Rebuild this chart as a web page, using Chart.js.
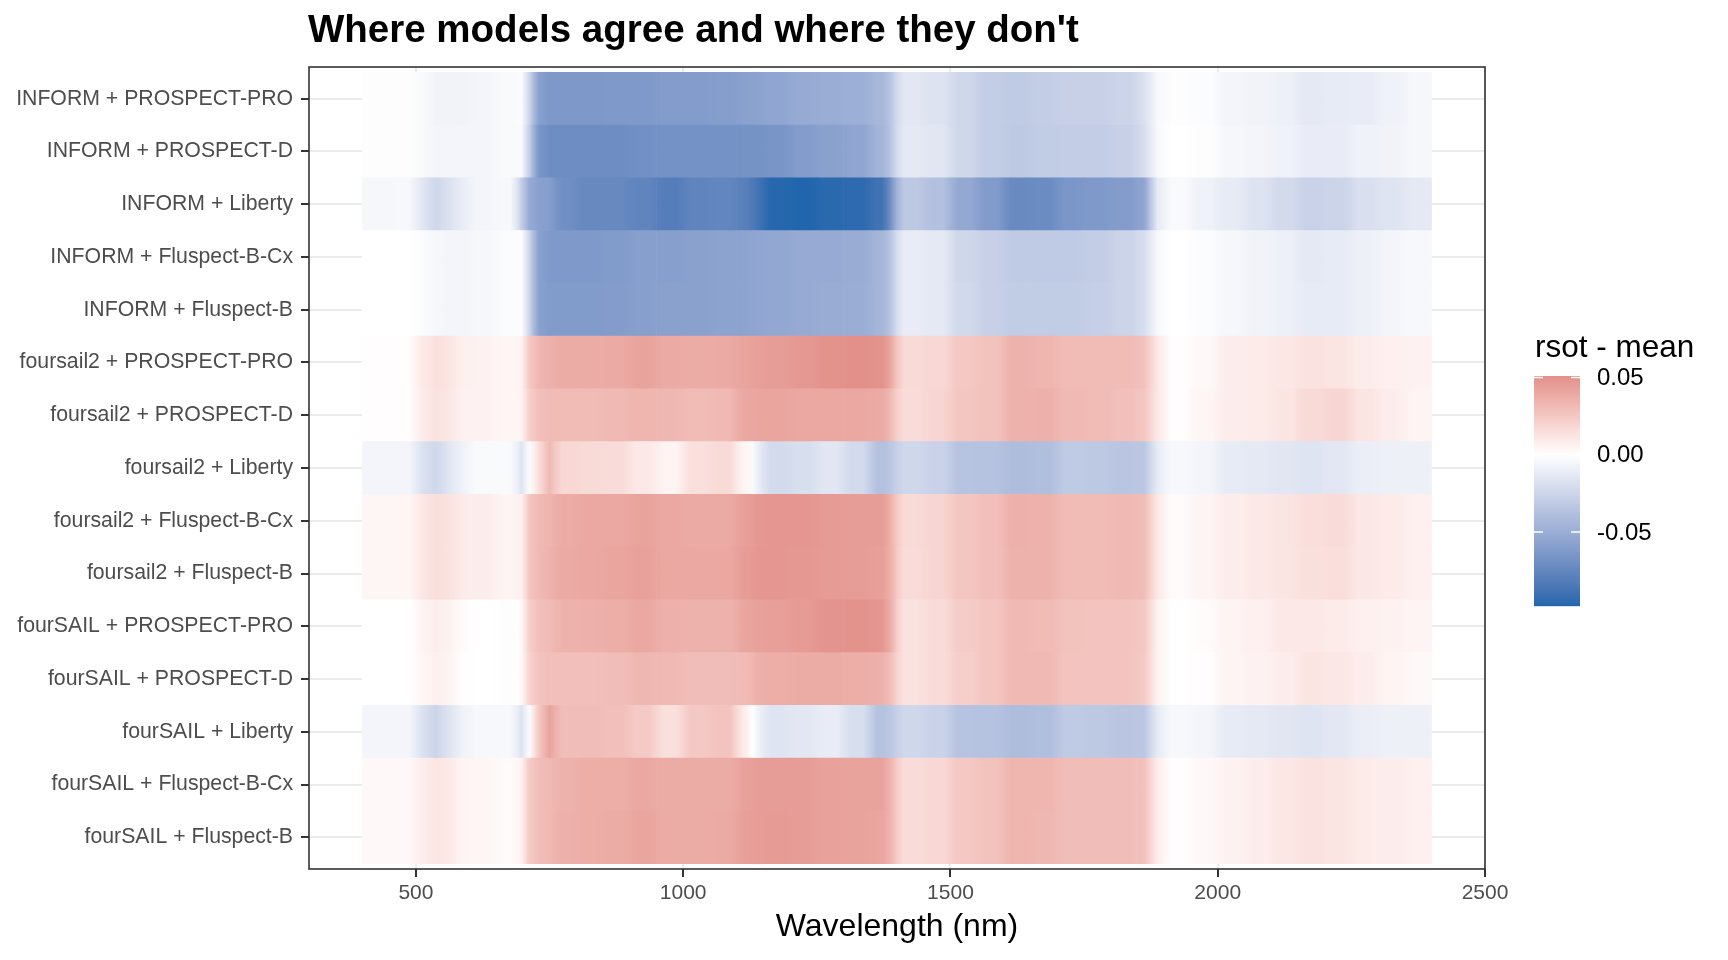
<!DOCTYPE html>
<html>
<head>
<meta charset="utf-8">
<script src="https://cdn.jsdelivr.net/npm/chart.js@4.4.1/dist/chart.umd.min.js"></script>
<style>
html,body{margin:0;padding:0;background:#ffffff;}
#wrap{width:1728px;height:960px;position:relative;}
</style>
</head>
<body>
<div id="wrap"><canvas id="c" width="1728" height="960"></canvas></div>
<script>
const chartTitle = "Where models agree and where they don't";
const legendTitle = "rsot - mean";
const xTitle = "Wavelength (nm)";
const xTicks = [500, 1000, 1500, 2000, 2500];
const legendTicks = [0.05, 0.00, -0.05];
const legendTickLabels = ["0.05", "0.00", "-0.05"];

const rowLabels = [
  "INFORM + PROSPECT-PRO",
  "INFORM + PROSPECT-D",
  "INFORM + Liberty",
  "INFORM + Fluspect-B-Cx",
  "INFORM + Fluspect-B",
  "foursail2 + PROSPECT-PRO",
  "foursail2 + PROSPECT-D",
  "foursail2 + Liberty",
  "foursail2 + Fluspect-B-Cx",
  "foursail2 + Fluspect-B",
  "fourSAIL + PROSPECT-PRO",
  "fourSAIL + PROSPECT-D",
  "fourSAIL + Liberty",
  "fourSAIL + Fluspect-B-Cx",
  "fourSAIL + Fluspect-B"
];

// wavelength band edges (nm)
const bandEdges = [400,450,500,525,550,575,600,650,690,705,720,740,760,800,850,900,950,1000,1050,1100,1130,1150,1200,1250,1300,1350,1385,1400,1450,1500,1550,1600,1650,1700,1750,1800,1850,1875,1900,1950,2000,2050,2100,2150,2200,2250,2300,2350,2400];

// rsot - mean per band, one array per model combination
const informProspectPro = [-0.001,-0.001,-0.003,-0.007,-0.007,-0.007,-0.006,-0.003,-0.002,-0.025,-0.058,-0.064,-0.064,-0.064,-0.063,-0.063,-0.061,-0.061,-0.060,-0.058,-0.057,-0.055,-0.052,-0.050,-0.049,-0.044,-0.030,-0.014,-0.017,-0.024,-0.030,-0.032,-0.030,-0.028,-0.028,-0.026,-0.018,-0.004,-0.001,-0.002,-0.006,-0.007,-0.009,-0.013,-0.012,-0.011,-0.008,-0.005];
const informProspectD = [-0.001,-0.001,-0.003,-0.006,-0.006,-0.006,-0.006,-0.003,-0.003,-0.030,-0.065,-0.071,-0.071,-0.071,-0.071,-0.069,-0.068,-0.068,-0.068,-0.067,-0.067,-0.066,-0.061,-0.058,-0.055,-0.046,-0.030,-0.013,-0.015,-0.024,-0.030,-0.033,-0.031,-0.030,-0.030,-0.028,-0.020,-0.004,0.000,-0.001,-0.005,-0.006,-0.008,-0.011,-0.011,-0.008,-0.007,-0.005];
const informLiberty = [-0.005,-0.004,-0.015,-0.024,-0.018,-0.011,-0.006,-0.004,-0.030,-0.052,-0.058,-0.060,-0.070,-0.074,-0.074,-0.077,-0.082,-0.077,-0.076,-0.080,-0.088,-0.097,-0.098,-0.096,-0.095,-0.089,-0.060,-0.033,-0.038,-0.053,-0.062,-0.073,-0.072,-0.065,-0.063,-0.061,-0.055,-0.012,-0.003,-0.008,-0.012,-0.017,-0.022,-0.027,-0.026,-0.019,-0.016,-0.013];
const informFluspectBCx = [0.000,0.000,-0.002,-0.005,-0.006,-0.006,-0.005,-0.002,-0.001,-0.025,-0.058,-0.063,-0.063,-0.063,-0.062,-0.059,-0.059,-0.058,-0.057,-0.056,-0.055,-0.054,-0.052,-0.052,-0.051,-0.045,-0.030,-0.011,-0.013,-0.024,-0.028,-0.032,-0.032,-0.032,-0.030,-0.026,-0.020,-0.004,0.000,-0.002,-0.005,-0.007,-0.009,-0.013,-0.012,-0.009,-0.006,-0.004];
const informFluspectB = [0.000,0.000,-0.002,-0.005,-0.006,-0.006,-0.005,-0.002,-0.001,-0.025,-0.058,-0.062,-0.062,-0.062,-0.061,-0.059,-0.058,-0.058,-0.057,-0.056,-0.055,-0.054,-0.052,-0.051,-0.050,-0.045,-0.030,-0.011,-0.013,-0.023,-0.028,-0.031,-0.031,-0.031,-0.029,-0.026,-0.020,-0.004,0.000,-0.002,-0.005,-0.007,-0.009,-0.012,-0.012,-0.009,-0.006,-0.004];
const foursail2ProspectPro = [0.001,0.001,0.010,0.014,0.012,0.007,0.006,0.004,0.006,0.025,0.033,0.036,0.038,0.038,0.039,0.042,0.039,0.038,0.039,0.042,0.044,0.045,0.047,0.050,0.051,0.050,0.035,0.017,0.018,0.025,0.028,0.035,0.034,0.031,0.031,0.031,0.028,0.010,0.001,0.003,0.008,0.009,0.011,0.013,0.012,0.008,0.007,0.006];
const foursail2ProspectD = [0.001,0.001,0.009,0.013,0.011,0.006,0.006,0.004,0.005,0.022,0.029,0.031,0.031,0.031,0.032,0.034,0.033,0.031,0.032,0.040,0.041,0.041,0.040,0.040,0.040,0.039,0.028,0.016,0.019,0.026,0.028,0.035,0.036,0.032,0.031,0.029,0.026,0.010,0.001,0.004,0.008,0.009,0.012,0.017,0.019,0.012,0.008,0.005];
const foursail2Liberty = [-0.006,-0.006,-0.018,-0.024,-0.015,-0.008,-0.003,-0.003,-0.016,-0.002,0.015,0.032,0.018,0.017,0.016,0.010,0.005,0.014,0.017,0.004,-0.010,-0.022,-0.020,-0.015,-0.022,-0.038,-0.032,-0.024,-0.027,-0.036,-0.037,-0.040,-0.039,-0.032,-0.033,-0.035,-0.034,-0.012,-0.004,-0.006,-0.012,-0.013,-0.015,-0.016,-0.014,-0.010,-0.009,-0.009];
const foursail2FluspectBCx = [0.004,0.004,0.011,0.015,0.013,0.009,0.008,0.005,0.007,0.026,0.032,0.034,0.038,0.040,0.040,0.042,0.040,0.039,0.039,0.044,0.047,0.048,0.048,0.046,0.045,0.045,0.032,0.017,0.019,0.026,0.029,0.036,0.035,0.031,0.031,0.032,0.030,0.010,0.002,0.005,0.008,0.010,0.012,0.015,0.016,0.011,0.009,0.007];
const foursail2FluspectB = [0.004,0.004,0.011,0.015,0.013,0.009,0.008,0.005,0.007,0.026,0.032,0.035,0.039,0.040,0.041,0.043,0.040,0.040,0.040,0.045,0.048,0.048,0.047,0.046,0.045,0.044,0.032,0.016,0.019,0.026,0.029,0.035,0.035,0.031,0.031,0.032,0.030,0.010,0.002,0.005,0.008,0.010,0.012,0.014,0.015,0.011,0.009,0.007];
const fourSAILProspectPro = [0.000,0.000,0.005,0.008,0.006,0.002,0.000,-0.001,0.003,0.022,0.029,0.031,0.035,0.036,0.037,0.040,0.036,0.035,0.035,0.041,0.043,0.044,0.046,0.049,0.050,0.048,0.032,0.013,0.016,0.023,0.026,0.032,0.031,0.028,0.027,0.027,0.025,0.006,0.000,0.002,0.005,0.007,0.010,0.010,0.009,0.007,0.006,0.005];
const fourSAILProspectD = [0.000,0.000,0.004,0.007,0.005,0.001,0.000,-0.001,0.003,0.020,0.027,0.029,0.029,0.029,0.030,0.033,0.032,0.030,0.030,0.031,0.036,0.037,0.038,0.038,0.037,0.036,0.026,0.013,0.016,0.022,0.026,0.032,0.032,0.027,0.027,0.027,0.024,0.006,0.000,0.001,0.005,0.006,0.008,0.012,0.011,0.008,0.005,0.003];
const fourSAILLiberty = [-0.006,-0.006,-0.018,-0.026,-0.016,-0.008,-0.004,-0.004,-0.017,-0.002,0.025,0.042,0.030,0.030,0.029,0.024,0.014,0.025,0.027,0.008,-0.008,-0.016,-0.014,-0.011,-0.020,-0.037,-0.032,-0.024,-0.027,-0.036,-0.037,-0.040,-0.039,-0.032,-0.033,-0.035,-0.034,-0.012,-0.004,-0.006,-0.012,-0.013,-0.015,-0.016,-0.014,-0.010,-0.009,-0.009];
const fourSAILFluspectBCx = [0.003,0.003,0.008,0.012,0.010,0.005,0.004,0.002,0.006,0.024,0.030,0.032,0.035,0.037,0.037,0.040,0.038,0.038,0.038,0.043,0.045,0.045,0.045,0.043,0.042,0.042,0.030,0.016,0.018,0.025,0.028,0.034,0.034,0.030,0.030,0.030,0.028,0.008,0.001,0.003,0.006,0.008,0.011,0.013,0.012,0.009,0.008,0.007];
const fourSAILFluspectB = [0.003,0.003,0.008,0.012,0.010,0.005,0.004,0.002,0.006,0.024,0.030,0.032,0.036,0.037,0.038,0.041,0.038,0.038,0.039,0.044,0.045,0.046,0.045,0.043,0.042,0.041,0.030,0.016,0.018,0.025,0.028,0.034,0.033,0.030,0.030,0.030,0.028,0.008,0.001,0.003,0.006,0.008,0.011,0.013,0.012,0.009,0.008,0.007];

const rowValues = [
  informProspectPro, informProspectD, informLiberty, informFluspectBCx, informFluspectB,
  foursail2ProspectPro, foursail2ProspectD, foursail2Liberty, foursail2FluspectBCx, foursail2FluspectB,
  fourSAILProspectPro, fourSAILProspectD, fourSAILLiberty, fourSAILFluspectBCx, fourSAILFluspectB
];

// ---------- colour scale (diverging, Lab interpolation, midpoint 0) ----------
const FONT = "'Liberation Sans', Arial, Helvetica, sans-serif";
const lowHex = "#2166AC", midHex = "#FFFFFF", highHex = "#B2182B";
function toLin(c){c/=255;return c<=0.04045?c/12.92:Math.pow((c+0.055)/1.055,2.4);}
function toSrgb(c){const v=c<=0.0031308?12.92*c:1.055*Math.pow(c,1/2.4)-0.055;return Math.round(Math.max(0,Math.min(1,v))*255);}
const Xn=0.95047,Yn=1.0,Zn=1.08883;
function fLab(t){return t>0.008856?Math.cbrt(t):(7.787*t+16/116);}
function fInv(t){const t3=t*t*t;return t3>0.008856?t3:(t-16/116)/7.787;}
function hexToLab(h){
  const r=toLin(parseInt(h.substr(1,2),16)),g=toLin(parseInt(h.substr(3,2),16)),b=toLin(parseInt(h.substr(5,2),16));
  const X=0.4124*r+0.3576*g+0.1805*b, Y=0.2126*r+0.7152*g+0.0722*b, Z=0.0193*r+0.1192*g+0.9505*b;
  const fx=fLab(X/Xn),fy=fLab(Y/Yn),fz=fLab(Z/Zn);
  return [116*fy-16,500*(fx-fy),200*(fy-fz)];
}
function labToRgb(L,a,b){
  const fy=(L+16)/116,fx=fy+a/500,fz=fy-b/200;
  const X=Xn*fInv(fx),Y=Yn*fInv(fy),Z=Zn*fInv(fz);
  const r=3.2406*X-1.5372*Y-0.4986*Z, g=-0.9689*X+1.8758*Y+0.0415*Z, bb=0.0557*X-0.2040*Y+1.0570*Z;
  return "rgb("+toSrgb(r)+","+toSrgb(g)+","+toSrgb(bb)+")";
}
const labLow=hexToLab(lowHex),labMid=hexToLab(midHex),labHigh=hexToLab(highHex);
const allVals=[].concat(...rowValues);
const vMin=Math.min(...allVals), vMax=Math.max(...allVals);
const extent=2*Math.max(Math.abs(vMin),Math.abs(vMax));
function colorFor(v){
  const f=v/extent+0.5;
  let A,B,t;
  if(f<0.5){A=labMid;B=labLow;t=(0.5-f)*2;}else{A=labMid;B=labHigh;t=(f-0.5)*2;}
  t=Math.max(0,Math.min(1,t));
  return labToRgb(A[0]+(B[0]-A[0])*t,A[1]+(B[1]-A[1])*t,A[2]+(B[2]-A[2])*t);
}

// ---------- cells ----------
const cells=[];
rowValues.forEach((vals,r)=>{
  for(let i=0;i<vals.length && i<bandEdges.length-1;i++){
    cells.push({x:[bandEdges[i],bandEdges[i+1]],y:r,v:vals[i],i:i});
  }
});

// cell fill: own colour, softened over a few pixels where it meets its neighbours
function cellFill(ctx){
  const raw=ctx.raw;
  if(!raw) return '#ffffff';
  const chart=ctx.chart, xs=chart.scales&&chart.scales.x;
  if(!xs || !chart.chartArea) return colorFor(raw.v);
  const x0=xs.getPixelForValue(raw.x[0]), x1=xs.getPixelForValue(raw.x[1]);
  const w=x1-x0;
  if(!(w>0)) return colorFor(raw.v);
  const vals=rowValues[raw.y];
  const prev=raw.i>0?vals[raw.i-1]:raw.v;
  const next=raw.i<vals.length-1?vals[raw.i+1]:raw.v;
  const d=Math.min(7,w/2)/w;
  const g=chart.ctx.createLinearGradient(x0,0,x1,0);
  g.addColorStop(0,colorFor((prev+raw.v)/2));
  g.addColorStop(d,colorFor(raw.v));
  g.addColorStop(1-d,colorFor(raw.v));
  g.addColorStop(1,colorFor((raw.v+next)/2));
  return g;
}

// ---------- decorations: title, panel border, colourbar ----------
const decorPlugin={
  id:'decor',
  afterDraw(chart){
    const ctx=chart.ctx, a=chart.chartArea;
    ctx.save();
    ctx.strokeStyle='#333333';ctx.lineWidth=1.6;
    ctx.strokeRect(a.left,a.top,a.right-a.left,a.bottom-a.top);
    ctx.fillStyle='#000000';ctx.textAlign='left';ctx.textBaseline='alphabetic';
    ctx.font="bold 38.5px "+FONT;
    ctx.fillText(chartTitle,a.left-1,42);
    ctx.font="31.5px "+FONT;
    ctx.fillText(legendTitle,1535,357);
    const bx=1534,bw=46,by=376,bh=230;
    for(let p=0;p<bh;p++){
      const v=vMax-(p+0.5)/bh*(vMax-vMin);
      ctx.fillStyle=colorFor(v);
      ctx.fillRect(bx,by+p,bw,1.2);
    }
    ctx.strokeStyle='#FFFFFF';ctx.lineWidth=1.5;
    ctx.font="24px "+FONT;ctx.textBaseline='middle';
    legendTicks.forEach((t,i)=>{
      const y=by+(vMax-t)/(vMax-vMin)*bh;
      ctx.beginPath();
      ctx.moveTo(bx,y);ctx.lineTo(bx+9,y);
      ctx.moveTo(bx+bw-9,y);ctx.lineTo(bx+bw,y);
      ctx.stroke();
      ctx.fillStyle='#000000';
      ctx.fillText(legendTickLabels[i],1597,y+1);
    });
    ctx.restore();
  }
};

Chart.defaults.font.family=FONT;

new Chart(document.getElementById('c'),{
  type:'bar',
  data:{datasets:[{
    data:cells,
    backgroundColor:cellFill,
    borderWidth:0,
    barPercentage:1,
    categoryPercentage:1,
    grouped:false
  }]},
  options:{
    indexAxis:'y',
    responsive:false,
    animation:false,
    devicePixelRatio:1,
    events:[],
    layout:{padding:{left:0,top:67,right:243,bottom:0}},
    plugins:{legend:{display:false},tooltip:{enabled:false},title:{display:false}},
    scales:{
      x:{
        type:'linear',position:'bottom',min:300,max:2500,
        afterBuildTicks:(s)=>{s.ticks=xTicks.map(v=>({value:v}));},
        afterFit:(s)=>{s.height=91;},
        ticks:{callback:(v)=>String(v),color:'#4D4D4D',font:{size:21,family:FONT},padding:4,maxRotation:0,autoSkip:false},
        grid:{color:'#EBEBEB',lineWidth:2,tickColor:'#333333',tickWidth:2,tickLength:8,drawTicks:true},
        border:{display:false},
        title:{display:true,text:xTitle,color:'#000000',font:{size:32,family:FONT},padding:{top:0,bottom:14}}
      },
      y:{
        type:'linear',min:-0.6,max:14.6,reverse:true,offset:false,
        afterBuildTicks:(s)=>{s.ticks=rowLabels.map((_,i)=>({value:i}));},
        afterFit:(s)=>{s.width=309;},
        ticks:{callback:(v)=>(rowLabels[v]!==undefined?rowLabels[v]:''),color:'#4D4D4D',font:{size:21.25,family:FONT},padding:8,autoSkip:false},
        grid:{offset:false,color:'#EBEBEB',lineWidth:2,tickColor:'#333333',tickWidth:2,tickLength:8,drawTicks:true},
        border:{display:false}
      }
    }
  },
  plugins:[decorPlugin]
});
</script>
</body>
</html>
